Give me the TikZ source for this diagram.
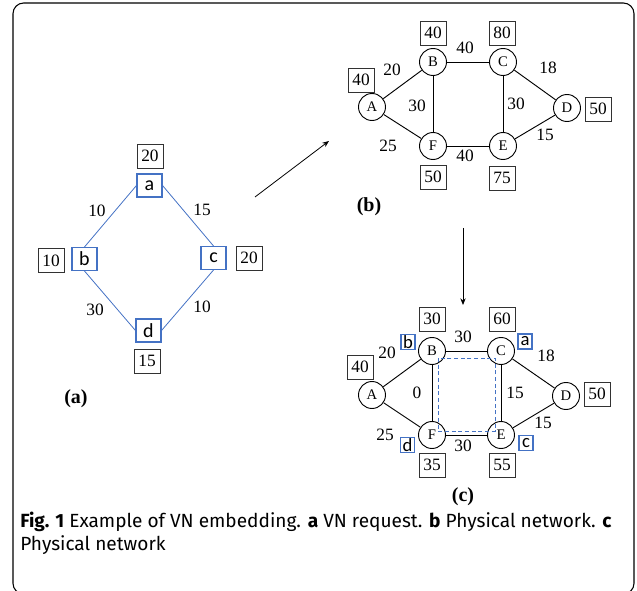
\documentclass[tikz,border=0pt]{standalone}
\usepackage{fontspec}
\setmainfont{Liberation Serif}
\newfontfamily\lettfont{Carlito}
\newfontfamily\capfont{Fira Sans}
\usetikzlibrary{arrows.meta}
\definecolor{vblue}{RGB}{68,114,196}
\definecolor{bgray}{RGB}{50,50,50}
\begin{document}
\begin{tikzpicture}[x=0.75pt,y=-0.75pt,
  capbox/.style={draw=bgray,line width=0.7pt,minimum width=19.5pt,minimum height=18pt,inner sep=0pt,font=\fontsize{13}{14}\selectfont},
  vnbox/.style={draw=vblue,line width=0.8pt,minimum width=18.75pt,minimum height=17.25pt,inner sep=0pt,font=\lettfont\fontsize{15}{16}\selectfont},
  smbox/.style={draw=vblue,line width=0.8pt,minimum width=10.5pt,minimum height=11.25pt,inner sep=0pt,font=\lettfont\fontsize{14}{15}\selectfont},
  pnode/.style={circle,draw,line width=0.7pt,minimum size=20.25pt,inner sep=0pt,font=\fontsize{11}{12}\selectfont},
  elab/.style={inner sep=0pt,font=\fontsize{13}{14}\selectfont},
  plab/.style={inner sep=0pt,font=\bfseries\fontsize{15}{16}\selectfont},
  captext/.style={anchor=base west,inner sep=0pt,font=\capfont\fontsize{14.3}{18}\selectfont},
  vline/.style={draw=vblue,line width=0.6pt},
  pline/.style={draw,line width=0.7pt},
  arr/.style={draw,line width=0.6pt,-{Stealth[length=5pt,width=4pt]}}
]
\useasboundingbox (0,0) rectangle (637,591);
\draw[line width=0.8pt,rounded corners=8pt] (13,3) rectangle (634,594);

% ---- panel (a)
\node[vnbox] (a) at (149.5,185.5) {a};
\node[vnbox] (b) at (84.5,259) {b};
\node[vnbox] (c) at (213.5,258) {c};
\node[vnbox] (d) at (148.5,330.5) {d};
\node[capbox] (ca) at (150,156) {20};
\node[capbox] (cb) at (51,260.5) {10};
\node[capbox] (cc) at (249,258) {20};
\node[capbox] (cd) at (147,361) {15};
\draw[vline] (a.west) -- (b.north);
\draw[vline] (a.east) -- (c.north);
\draw[vline] (b.south) -- (d.west);
\draw[vline] (c.south) -- (d.east);
\node[elab] (la1) at (97,211) {10};
\node[elab] (la2) at (202,210) {15};
\node[elab] (la3) at (95,310) {30};
\node[elab] (la4) at (202,307) {10};
\node[plab] (pa) at (76,399) {(a)};

% ---- panel (b)
\node[pnode] (bA) at (372,107) {A};
\node[pnode] (bB) at (433,62) {B};
\node[pnode] (bC) at (503,62) {C};
\node[pnode] (bD) at (567,108) {D};
\node[pnode] (bE) at (503,146) {E};
\node[pnode] (bF) at (433,146) {F};
\draw[pline] (bA) -- (bB);
\draw[pline] (bB) -- (bC);
\draw[pline] (bC) -- (bD);
\draw[pline] (bB) -- (bF);
\draw[pline] (bC) -- (bE);
\draw[pline] (bA) -- (bF);
\draw[pline] (bF) -- (bE);
\draw[pline] (bE) -- (bD);
\node[capbox] (cbB) at (433,33) {40};
\node[capbox] (cbC) at (502,33) {80};
\node[capbox] (cbA) at (361,80) {40};
\node[capbox] (cbD) at (598,109) {50};
\node[capbox] (cbF) at (433,177) {50};
\node[capbox] (cbE) at (502,178) {75};
\node[elab] (lb1) at (392,70) {20};
\node[elab] (lb2) at (465,48) {40};
\node[elab] (lb3) at (548,68) {18};
\node[elab] (lb4) at (417,106) {30};
\node[elab] (lb5) at (516,104) {30};
\node[elab] (lb6) at (388,146) {25};
\node[elab] (lb7) at (465,156) {40};
\node[elab] (lb8) at (545,135) {15};
\node[plab] (pb) at (369,207) {(b)};

% ---- panel (c)
\node[pnode] (cA) at (372,395) {A};
\node[pnode] (cB) at (432,351) {B};
\node[pnode] (cC) at (501,351) {C};
\node[pnode] (cD) at (566,396) {D};
\node[pnode] (cE) at (501,435) {E};
\node[pnode] (cF) at (432,435) {F};
\draw[pline] (cA) -- (cB);
\draw[pline] (cB) -- (cC);
\draw[pline] (cC) -- (cD);
\draw[pline] (cB) -- (cF);
\draw[pline] (cC) -- (cE);
\draw[pline] (cA) -- (cF);
\draw[pline] (cF) -- (cE);
\draw[pline] (cE) -- (cD);
\draw[vblue,line width=0.6pt,dash pattern=on 3pt off 2pt] (438,358) rectangle (495,431);
\node[capbox] (ccB) at (432,319) {30};
\node[capbox] (ccC) at (502,319) {60};
\node[capbox] (ccA) at (360,367) {40};
\node[capbox] (ccD) at (597,394) {50};
\node[capbox] (ccF) at (432,465) {35};
\node[capbox] (ccE) at (502,465) {55};
\node[smbox] (sb) at (408,342) {b};
\node[smbox] (sa) at (525,341.5) {a};
\node[smbox] (sd) at (407.5,445) {d};
\node[smbox] (sc) at (526,443) {c};
\node[elab] (lc1) at (387,353) {20};
\node[elab] (lc2) at (463,337) {30};
\node[elab] (lc3) at (546,356) {18};
\node[elab] (lc4) at (417,393) {0};
\node[elab] (lc5) at (515,393) {15};
\node[elab] (lc6) at (385,435) {25};
\node[elab] (lc7) at (463,446) {30};
\node[elab] (lc8) at (543,423) {15};
\node[plab] (pc) at (463,497) {(c)};

% ---- arrows between panels
\coordinate (s1) at (255,197);
\coordinate (e1) at (329,141);
\draw[arr] (s1) -- (e1);
\coordinate (s2) at (463,228);
\coordinate (e2) at (463,305);
\draw[arr] (s2) -- (e2);

% ---- caption
\node[captext] (capt1) at (20,528)
  {\textbf{Fig. 1} Example of VN embedding. \textbf{a} VN request. \textbf{b} Physical network. \textbf{c}};
\node[captext] (capt2) at (20,551) {Physical network};
\end{tikzpicture}
\end{document}
